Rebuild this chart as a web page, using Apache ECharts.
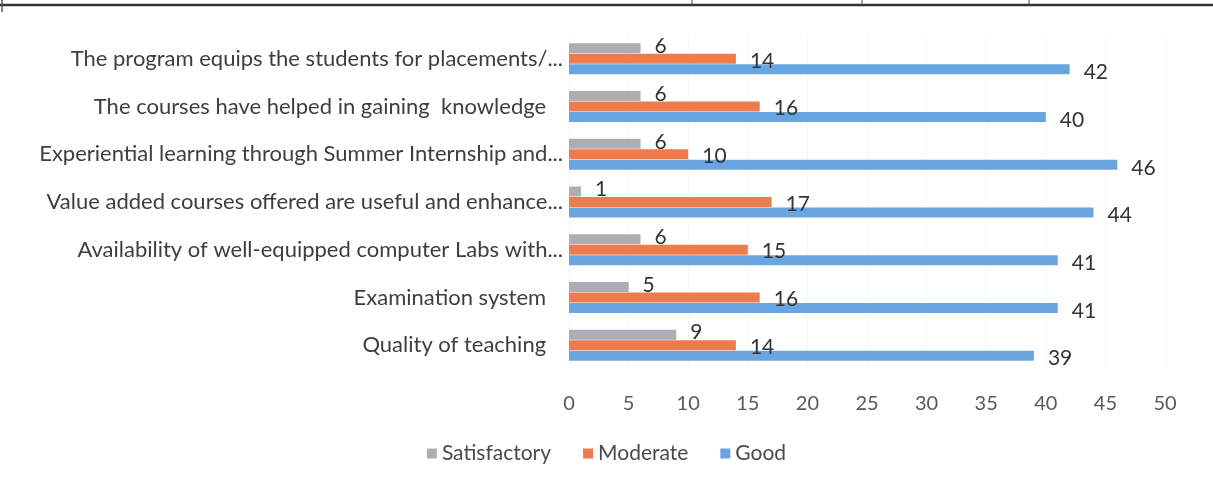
<!DOCTYPE html>
<html>
<head>
<meta charset="utf-8">
<script src="https://cdn.jsdelivr.net/npm/echarts@6/dist/echarts.min.js"></script>
<style>
  html, body { margin: 0; padding: 0; background: #fff; }
  #chart { width: 1213px; height: 483px; }
</style>
</head>
<body>
<div id="chart"></div>
<script>
// survey categories, top to bottom
const categories = [
  'The program equips the students for placements/...',
  'The courses have helped in gaining  knowledge',
  'Experiential learning through Summer Internship and...',
  'Value added courses offered are useful and enhance...',
  'Availability of well-equipped computer Labs with...',
  'Examination system',
  'Quality of teaching'
]
const satisfactory = [6, 6, 6, 1, 6, 5, 9]
const moderate = [14, 16, 10, 17, 15, 16, 14]
const good = [42, 40, 46, 44, 41, 41, 39]
const xTicks = { min: 0, max: 50, interval: 5 }

const font = 'Lato, "Open Sans", sans-serif'

function barSeries (name, data, color, offsetY) {
  return {
    name: name,
    type: 'bar',
    data: data,
    barWidth: 10,
    barGap: '5%',
    itemStyle: { color: color },
    label: {
      show: true,
      position: 'right',
      distance: 14,
      offset: [0, offsetY],
      color: '#333333',
      fontSize: 21,
      fontFamily: font
    }
  }
}

const option = {
  animation: false,
  textStyle: { fontFamily: font },
  grid: {
    top: 35,
    left: 569,
    right: 48,
    bottom: 114
  },
  xAxis: {
    type: 'value',
    min: xTicks.min,
    max: xTicks.max,
    interval: xTicks.interval,
    axisLine: { show: false },
    axisTick: { show: false },
    splitLine: { show: true, lineStyle: { color: '#f6f6f6' } },
    axisLabel: { color: '#595959', fontSize: 20, margin: 25, fontFamily: font }
  },
  yAxis: {
    type: 'category',
    inverse: true,
    data: categories,
    axisLine: { show: false },
    axisTick: { show: false },
    axisLabel: {
      color: '#3d3d42',
      fontSize: 22,
      margin: 6,
      fontFamily: font,
      formatter: function (v) {
        return v.endsWith('...') ? v : v + '\u00a0\u00a0\u00a0'
      }
    }
  },
  legend: {
    bottom: 14,
    left: 'center',
    itemWidth: 10,
    itemHeight: 10,
    itemGap: 32,
    icon: 'rect',
    textStyle: { color: '#4a4a4a', fontSize: 21, fontFamily: font },
    data: ['Satisfactory', 'Moderate', 'Good']
  },
  // table border remnants at the top of the scan
  graphic: [
    { type: 'line', shape: { x1: 0, y1: 5, x2: 1213, y2: 5 }, style: { stroke: '#333', lineWidth: 2.5 } },
    { type: 'line', shape: { x1: 2, y1: 0, x2: 2, y2: 12 }, style: { stroke: '#555', lineWidth: 1.5 } },
    { type: 'line', shape: { x1: 692, y1: 0, x2: 692, y2: 5 }, style: { stroke: '#444', lineWidth: 1 } },
    { type: 'line', shape: { x1: 862, y1: 0, x2: 862, y2: 5 }, style: { stroke: '#444', lineWidth: 1 } },
    { type: 'line', shape: { x1: 1029, y1: 0, x2: 1029, y2: 5 }, style: { stroke: '#444', lineWidth: 1 } }
  ],
  series: [
    barSeries('Satisfactory', satisfactory, '#afadb3', -2),
    barSeries('Moderate', moderate, '#ee7b4c', 2),
    barSeries('Good', good, '#6ba5df', 3)
  ]
}

const dom = echarts.init(document.getElementById('chart'))
dom.setOption(option)
window.addEventListener('resize', function () { dom.resize() })
</script>
</body>
</html>
